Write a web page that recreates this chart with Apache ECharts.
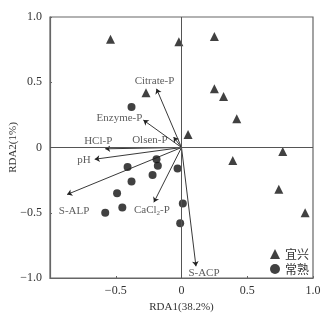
<!DOCTYPE html>
<html>
<head>
<meta charset="utf-8">
<script src="https://cdn.jsdelivr.net/npm/echarts@6/dist/echarts.min.js"></script>
<style>
  html, body { margin: 0; padding: 0; background: #fff; }
  #chart { width: 335px; height: 314px; }
</style>
</head>
<body>
<div id="chart"></div>
<script>
// 宜兴 samples (RDA1, RDA2)
const yixingPts = [
  [-0.54, 0.83], [-0.02, 0.81], [0.25, 0.85], [-0.27, 0.42],
  [0.25, 0.45], [0.32, 0.39], [0.42, 0.22], [0.05, 0.10],
  [0.77, -0.03], [0.39, -0.10], [0.74, -0.32], [0.94, -0.50]
]
// 常熟 samples
const changshuPts = [
  [-0.38, 0.31], [-0.19, -0.09], [-0.18, -0.14], [-0.41, -0.15],
  [-0.22, -0.21], [-0.38, -0.26], [-0.03, -0.16], [-0.45, -0.46],
  [0.01, -0.43], [-0.01, -0.58], [-0.49, -0.35], [-0.58, -0.50]
]
// environmental factor arrows
const envNames = ['Citrate-P', 'Enzyme-P', 'Olsen-P', 'HCl-P', 'pH', 'S-ALP', 'CaCl2-P', 'S-ACP']
const envEnds = [
  [-0.19, 0.45], [-0.29, 0.21], [-0.06, 0.08], [-0.58, -0.01],
  [-0.66, -0.09], [-0.87, -0.36], [-0.21, -0.42], [0.11, -0.91]
]
const axisTicks = [-1, -0.5, 0, 0.5, 1]

// label placement around arrow heads (style only)
const labelPlace = {
  'Citrate-P': { position: 'top', distance: 2, offset: [-2, 0] },
  'Enzyme-P': { position: 'left', distance: 1, offset: [0, -2] },
  'Olsen-P': { position: 'left', distance: 6, offset: [0, 3] },
  'HCl-P': { position: 'top', distance: 2, offset: [-7, 0] },
  'pH': { position: 'left', distance: 4, offset: [0, 1] },
  'S-ALP': { position: 'bottom', distance: 11, offset: [7, 0] },
  'CaCl2-P': { position: 'bottom', distance: 1, offset: [-2, 0] },
  'S-ACP': { position: 'bottom', distance: 1, offset: [8, 0] }
}

const fmt = v => {
  if (v === 0) return '0'
  const s = Math.abs(v).toFixed(1)
  return v < 0 ? '\u2212' + s : s
}

const serif = 'Liberation Serif'
const cjk = 'Noto Sans CJK SC'
const chart = echarts.init(document.getElementById('chart'))

chart.setOption({
  animation: false,
  grid: {
    left: 50, right: 22, top: 17, bottom: 36, outerBoundsMode: 'none',
    show: true, borderColor: '#666', borderWidth: 1.2
  },
  legend: {
    orient: 'vertical', left: 265, top: 243, itemWidth: 10, itemHeight: 10, itemGap: 3,
    textStyle: { fontFamily: cjk, fontSize: 12, color: '#333' },
    data: [{ name: '宜兴', icon: 'triangle' }, { name: '常熟', icon: 'circle' }]
  },
  xAxis: {
    type: 'value', min: axisTicks[0], max: axisTicks[axisTicks.length - 1], interval: 0.5,
    name: 'RDA1(38.2%)', nameLocation: 'middle', nameGap: 24, nameMoveOverlap: false,
    nameTextStyle: { fontFamily: serif, fontSize: 11, color: '#333' },
    axisLine: { onZero: false, lineStyle: { color: '#666', width: 1.2 } },
    axisTick: { inside: true, length: 2, lineStyle: { color: '#666' } },
    axisLabel: { fontFamily: serif, fontSize: 12, color: '#333', margin: 7,
      formatter: v => (v === axisTicks[0] ? '' : fmt(v)) },
    splitLine: { show: false }
  },
  yAxis: {
    type: 'value', min: axisTicks[0], max: axisTicks[axisTicks.length - 1], interval: 0.5,
    name: 'RDA2(1%)', nameLocation: 'middle', nameGap: 31, nameMoveOverlap: false,
    nameTextStyle: { fontFamily: serif, fontSize: 11, color: '#333' },
    axisLine: { onZero: false, lineStyle: { color: '#666', width: 1.2 } },
    axisTick: { inside: true, length: 2, lineStyle: { color: '#666' } },
    axisLabel: { fontFamily: serif, fontSize: 12, color: '#333', margin: 8, formatter: fmt },
    splitLine: { show: false }
  },
  series: [
    {
      name: '宜兴', type: 'scatter', symbol: 'triangle', symbolSize: 9,
      itemStyle: { color: '#111' }, data: yixingPts, z: 3,
      markLine: {
        silent: true, symbol: 'none', label: { show: false },
        lineStyle: { color: '#555', width: 1, type: 'solid' },
        data: [{ xAxis: 0 }, { yAxis: 0 }]
      }
    },
    {
      name: '常熟', type: 'scatter', symbol: 'circle', symbolSize: 8,
      itemStyle: { color: '#111' }, data: changshuPts, z: 3
    },
    {
      name: 'arrows', type: 'lines', coordinateSystem: 'cartesian2d',
      symbol: ['none', 'arrow'], symbolSize: 5,
      lineStyle: { color: '#222', width: 0.9, opacity: 1 },
      data: envEnds.map(e => ({ coords: [[0, 0], e] })), z: 4
    },
    {
      name: 'envLabels', type: 'scatter', symbolSize: 0, silent: true,
      data: envEnds.map((e, i) => ({
        value: e,
        name: envNames[i],
        label: Object.assign({ show: true }, labelPlace[envNames[i]])
      })),
      label: {
        fontFamily: serif, fontSize: 11, color: '#333',
        formatter: p => p.name === 'CaCl2-P' ? 'CaCl{sub|2}-P' : p.name,
        rich: { sub: { fontFamily: serif, fontSize: 7, color: '#333', verticalAlign: 'bottom', padding: [6, 0, 0, 0] } }
      }
    }
  ]
})
</script>
</body>
</html>
